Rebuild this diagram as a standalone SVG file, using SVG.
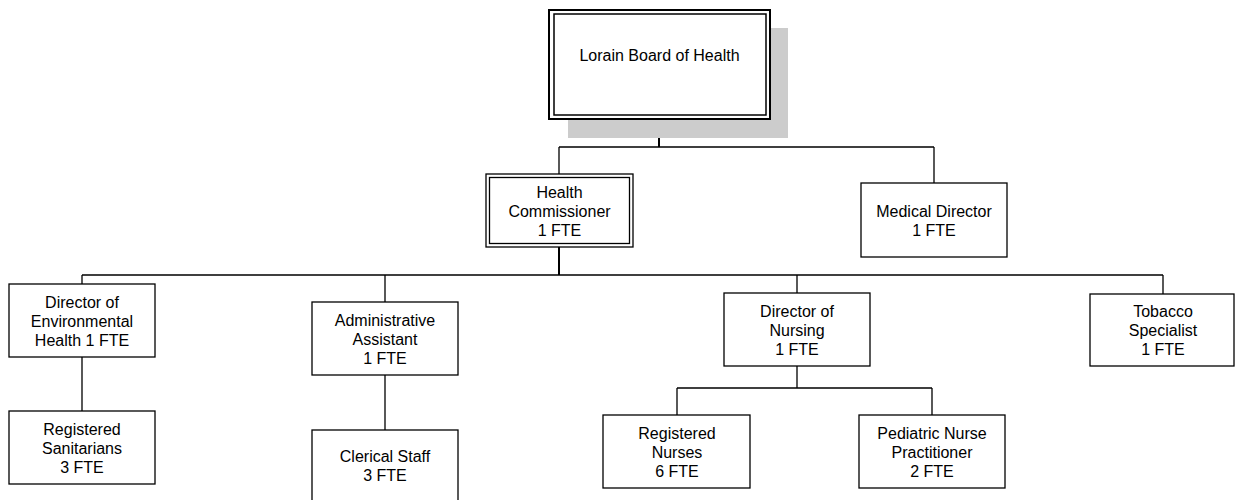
<svg xmlns="http://www.w3.org/2000/svg" width="1235" height="500" viewBox="0 0 1235 500">
<style>
.box{fill:#ffffff;stroke:#000000;stroke-width:1.3}
.t{font-family:"Liberation Sans",Arial,sans-serif;font-size:16px;fill:#000000;text-anchor:middle}
.c{fill:none;stroke:#000000;stroke-width:1.3}
.ct{fill:none;stroke:#000000;stroke-width:2}
</style>
<rect width="1235" height="500" fill="#ffffff"/>
<g id="connectors">
<path class="ct" d="M659,119 V147"/>
<path class="c" d="M559,147 H934 M559,147 V174 M934,147 V183"/>
<path class="ct" d="M559,247 V275"/>
<path class="c" d="M82,275 H1163 M82,275 V284 M385,275 V302 M797,275 V293 M1163,275 V294"/>
<path class="c" d="M82,357 V411 M385,375 V430 M797,366 V388 M677,388 H932 M677,388 V415 M932,388 V415"/>
</g>
<g id="board">
<rect x="568" y="28" width="220" height="110" fill="#cccccc"/>
<rect x="549" y="10" width="221" height="109" fill="#ffffff" stroke="#000" stroke-width="2"/>
<rect x="554" y="14" width="212" height="101" fill="none" stroke="#000" stroke-width="1.5"/>
<text class="t" x="659.5" y="61">Lorain Board of Health</text>
</g>
<g id="commissioner">
<rect class="box" x="486" y="174" width="147" height="73"/>
<rect class="box" x="489.5" y="177.5" width="140" height="66"/>
<text class="t" x="559.5" y="198">Health</text>
<text class="t" x="559.5" y="217">Commissioner</text>
<text class="t" x="559.5" y="236">1 FTE</text>
</g>
<g id="medical">
<rect class="box" x="861" y="183" width="146" height="74"/>
<text class="t" x="934" y="217">Medical Director</text>
<text class="t" x="934" y="236">1 FTE</text>
</g>
<g id="envdir">
<rect class="box" x="9" y="284" width="146" height="73"/>
<text class="t" x="82" y="308">Director of</text>
<text class="t" x="82" y="327">Environmental</text>
<text class="t" x="82" y="346">Health 1 FTE</text>
</g>
<g id="sanitarians">
<rect class="box" x="9" y="411" width="146" height="73"/>
<text class="t" x="82" y="435">Registered</text>
<text class="t" x="82" y="454">Sanitarians</text>
<text class="t" x="82" y="473">3 FTE</text>
</g>
<g id="admin">
<rect class="box" x="312" y="302" width="146" height="73"/>
<text class="t" x="385" y="326">Administrative</text>
<text class="t" x="385" y="345">Assistant</text>
<text class="t" x="385" y="364">1 FTE</text>
</g>
<g id="clerical">
<rect class="box" x="312" y="430" width="146" height="73"/>
<text class="t" x="385" y="462">Clerical Staff</text>
<text class="t" x="385" y="481">3 FTE</text>
</g>
<g id="nursingdir">
<rect class="box" x="724" y="293" width="146" height="73"/>
<text class="t" x="797" y="317">Director of</text>
<text class="t" x="797" y="336">Nursing</text>
<text class="t" x="797" y="355">1 FTE</text>
</g>
<g id="tobacco">
<rect class="box" x="1090" y="294" width="144" height="72"/>
<text class="t" x="1163" y="317">Tobacco</text>
<text class="t" x="1163" y="336">Specialist</text>
<text class="t" x="1163" y="355">1 FTE</text>
</g>
<g id="nurses">
<rect class="box" x="603" y="415" width="147" height="73"/>
<text class="t" x="677" y="439">Registered</text>
<text class="t" x="677" y="458">Nurses</text>
<text class="t" x="677" y="477">6 FTE</text>
</g>
<g id="pediatric">
<rect class="box" x="859" y="415" width="146" height="73"/>
<text class="t" x="932" y="439">Pediatric Nurse</text>
<text class="t" x="932" y="458">Practitioner</text>
<text class="t" x="932" y="477">2 FTE</text>
</g>
</svg>
